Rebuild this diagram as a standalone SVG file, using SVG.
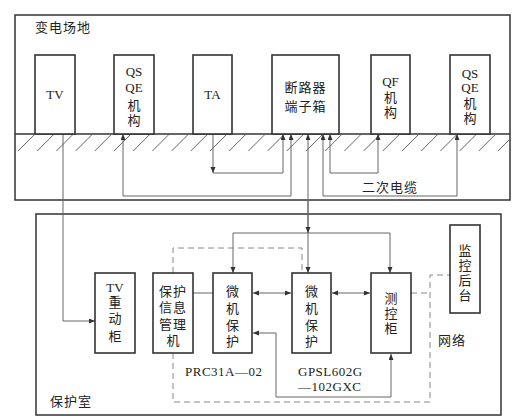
<svg xmlns="http://www.w3.org/2000/svg" width="525" height="417" viewBox="0 0 525 417">
<style>
.frame{fill:none;stroke:#333;stroke-width:1.5}
.box{fill:#fff;stroke:#333;stroke-width:1.6}
.t{font-family:"Liberation Serif","Noto Sans CJK SC",serif;font-size:13px;fill:#222;text-anchor:middle}
.tl{font-family:"Liberation Serif","Noto Sans CJK SC",serif;font-size:13px;fill:#222}
.c{fill:none;stroke:#666;stroke-width:1}
.d{fill:none;stroke:#888;stroke-width:1;stroke-dasharray:6,4}
.h{stroke:#666;stroke-width:1}
</style>
<defs>
<marker id="a" markerUnits="userSpaceOnUse" markerWidth="7" markerHeight="6" refX="6" refY="2.5" orient="auto-start-reverse">
<path d="M0,0 L6,2.5 L0,5 z" fill="#333"/>
</marker>
<clipPath id="clip"><rect x="15" y="134" width="495" height="20"/></clipPath>
</defs>
<rect x="0" y="0" width="525" height="417" fill="#fff"/>

<!-- 变电场地 outer -->
<g id="yard">
<rect class="frame" x="15" y="15" width="495" height="185"/>
<text class="tl" x="35" y="32" letter-spacing="1">变电场地</text>
<line x1="15" y1="134" x2="510" y2="134" stroke="#333" stroke-width="1.5"/>
<g clip-path="url(#clip)">
<line class="h" x1="18" y1="151" x2="34" y2="135"/><line class="h" x1="37.2" y1="151" x2="53.2" y2="135"/><line class="h" x1="56.4" y1="151" x2="72.4" y2="135"/><line class="h" x1="75.6" y1="151" x2="91.6" y2="135"/><line class="h" x1="94.8" y1="151" x2="110.8" y2="135"/><line class="h" x1="114" y1="151" x2="130" y2="135"/><line class="h" x1="133.2" y1="151" x2="149.2" y2="135"/><line class="h" x1="152.4" y1="151" x2="168.4" y2="135"/><line class="h" x1="171.6" y1="151" x2="187.6" y2="135"/><line class="h" x1="190.8" y1="151" x2="206.8" y2="135"/><line class="h" x1="210" y1="151" x2="226" y2="135"/><line class="h" x1="229.2" y1="151" x2="245.2" y2="135"/><line class="h" x1="248.4" y1="151" x2="264.4" y2="135"/><line class="h" x1="267.6" y1="151" x2="283.6" y2="135"/><line class="h" x1="286.8" y1="151" x2="302.8" y2="135"/><line class="h" x1="306" y1="151" x2="322" y2="135"/><line class="h" x1="325.2" y1="151" x2="341.2" y2="135"/><line class="h" x1="344.4" y1="151" x2="360.4" y2="135"/><line class="h" x1="363.6" y1="151" x2="379.6" y2="135"/><line class="h" x1="382.8" y1="151" x2="398.8" y2="135"/><line class="h" x1="402" y1="151" x2="418" y2="135"/><line class="h" x1="421.2" y1="151" x2="437.2" y2="135"/><line class="h" x1="440.4" y1="151" x2="456.4" y2="135"/><line class="h" x1="459.6" y1="151" x2="475.6" y2="135"/><line class="h" x1="478.8" y1="151" x2="494.8" y2="135"/><line class="h" x1="498" y1="151" x2="514" y2="135"/>
</g>
<text class="t" x="390" y="192" letter-spacing="1">二次电缆</text>
</g>

<!-- 保护室 outer -->
<g id="room">
<rect class="frame" x="36" y="214" width="465" height="201"/>
<text class="tl" x="50" y="406" letter-spacing="1">保护室</text>
</g>

<!-- connectors -->
<g id="connectors">
<polyline class="c" points="63,134 63,321 95,321" marker-end="url(#a)"/>
<polyline class="c" points="123,134 123,196 291,196 291,134" marker-start="url(#a)" marker-end="url(#a)"/>
<line class="c" x1="213" y1="134" x2="213" y2="173" marker-end="url(#a)"/>
<polyline class="c" points="213,173 283,173 283,134" marker-end="url(#a)"/>
<line class="c" x1="308" y1="233" x2="308" y2="134" marker-end="url(#a)"/>
<line class="c" x1="308" y1="200" x2="308" y2="233" marker-end="url(#a)"/>
<line class="c" x1="308" y1="233" x2="308" y2="273" marker-end="url(#a)"/>
<polyline class="c" points="233,273 233,233 390,233 390,273" marker-start="url(#a)" marker-end="url(#a)"/>
<polyline class="c" points="323,134 323,196 457,196 457,134" marker-start="url(#a)" marker-end="url(#a)"/>
<polyline class="c" points="330,134 330,173 378,173 378,134" marker-start="url(#a)" marker-end="url(#a)"/>
<line class="c" x1="193" y1="293" x2="213" y2="293"/>
<line class="c" x1="253" y1="293" x2="291" y2="293" marker-start="url(#a)" marker-end="url(#a)"/>
<line class="c" x1="332" y1="293" x2="370" y2="293" marker-start="url(#a)" marker-end="url(#a)"/>
<polyline class="c" points="253,333 276,333 276,397 391,397 391,354" marker-start="url(#a)" marker-end="url(#a)"/>
<polyline class="d" points="173,273 173,248 302,248 302,273"/>
<polyline class="d" points="173,353 173,402 430,402 430,275 450,275"/>
<line class="d" x1="411" y1="293" x2="430" y2="293"/>
</g>

<!-- top nodes -->
<g id="tv"><rect class="box" x="35" y="55" width="40" height="79"/><text class="t" x="55" y="99">TV</text></g>
<g id="qsqe1"><rect class="box" x="114" y="55" width="40" height="79"/>
<text class="t" x="134" y="76">QS</text><text class="t" x="134" y="92">QE</text><text class="t" x="134" y="110">机</text><text class="t" x="134" y="125">构</text></g>
<g id="ta"><rect class="box" x="193" y="55" width="39" height="79"/><text class="t" x="212.5" y="99">TA</text></g>
<g id="breaker"><rect class="box" x="272" y="55" width="67" height="79"/>
<text class="t" x="305.5" y="92" letter-spacing="1">断路器</text><text class="t" x="305.5" y="111" letter-spacing="1">端子箱</text></g>
<g id="qf"><rect class="box" x="371" y="55" width="39" height="79"/>
<text class="t" x="390.5" y="86">QF</text><text class="t" x="390.5" y="102">机</text><text class="t" x="390.5" y="117">构</text></g>
<g id="qsqe2"><rect class="box" x="450" y="55" width="40" height="79"/>
<text class="t" x="470" y="78">QS</text><text class="t" x="470" y="92">QE</text><text class="t" x="470" y="108">机</text><text class="t" x="470" y="123">构</text></g>

<!-- bottom nodes -->
<g id="tvcab"><rect class="box" x="95" y="273" width="40" height="80"/>
<text class="t" x="115" y="292">TV</text><text class="t" x="115" y="307">重</text><text class="t" x="115" y="323">动</text><text class="t" x="115" y="341">柜</text></g>
<g id="infomgr"><rect class="box" x="153" y="273" width="40" height="80"/>
<text class="t" x="173" y="296" letter-spacing="1">保护</text><text class="t" x="173" y="312" letter-spacing="1">信息</text><text class="t" x="173" y="329" letter-spacing="1">管理</text><text class="t" x="173" y="345">机</text></g>
<g id="mp1"><rect class="box" x="213" y="273" width="39" height="80"/>
<text class="t" x="232.5" y="296">微</text><text class="t" x="232.5" y="313">机</text><text class="t" x="232.5" y="330">保</text><text class="t" x="232.5" y="346">护</text></g>
<g id="mp2"><rect class="box" x="292" y="273" width="39" height="80"/>
<text class="t" x="311.5" y="296">微</text><text class="t" x="311.5" y="313">机</text><text class="t" x="311.5" y="330">保</text><text class="t" x="311.5" y="346">护</text></g>
<g id="mc"><rect class="box" x="371" y="273" width="40" height="80"/>
<text class="t" x="391" y="303">测</text><text class="t" x="391" y="318">控</text><text class="t" x="391" y="333">柜</text></g>
<g id="monitor"><rect class="box" x="450" y="225" width="30" height="88"/>
<text class="t" x="465" y="255">监</text><text class="t" x="465" y="270">控</text><text class="t" x="465" y="285">后</text><text class="t" x="465" y="300">台</text></g>

<g id="labels">
<text class="tl" x="185" y="376" letter-spacing="0.5">PRC31A—02</text>
<text class="tl" x="298" y="376" letter-spacing="0.5">GPSL602G</text>
<text class="tl" x="298" y="391" letter-spacing="0.5">—102GXC</text>
<text class="tl" x="438" y="345" letter-spacing="1">网络</text>
</g>
</svg>
